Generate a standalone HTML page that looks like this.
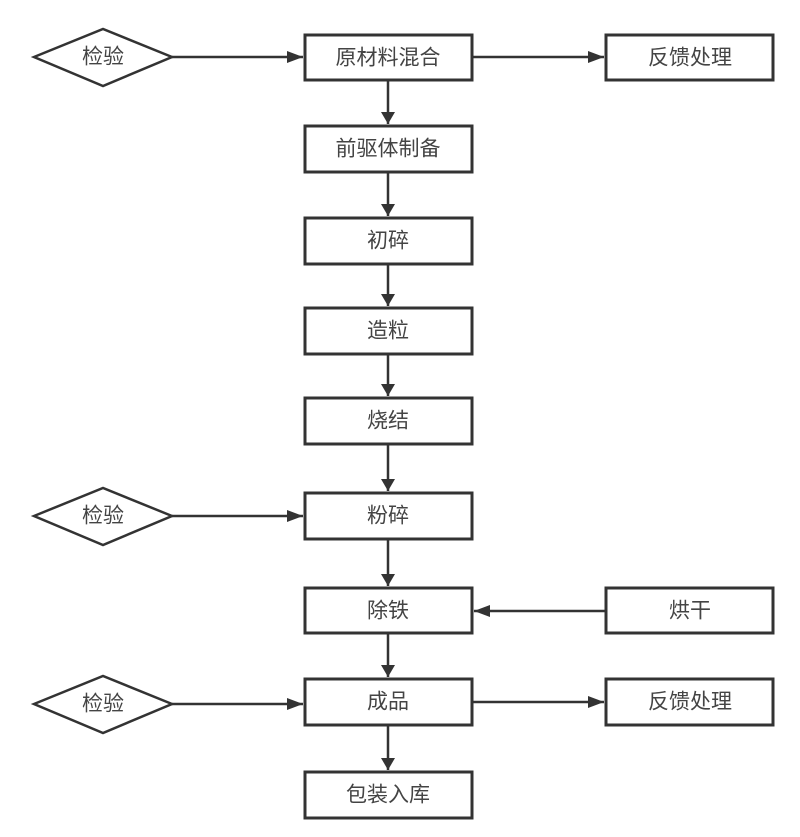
<!DOCTYPE html>
<html><head><meta charset="utf-8"><style>
html,body{margin:0;padding:0;background:#fff;}
svg text{font-family:"Liberation Sans","Noto Sans CJK SC",sans-serif;font-size:21px;fill:#444;text-anchor:middle;dominant-baseline:central;}
</style></head><body>
<svg width="800" height="832" viewBox="0 0 800 832" xmlns="http://www.w3.org/2000/svg">
<defs><marker id="a" viewBox="0 0 12 16" refX="12" refY="8" markerWidth="12" markerHeight="16" markerUnits="userSpaceOnUse" orient="auto"><path d="M0,1 L12,8 L0,15 Z" fill="#333"/></marker>
<marker id="b" viewBox="0 0 16 12" refX="16" refY="6" markerWidth="16" markerHeight="12" markerUnits="userSpaceOnUse" orient="auto"><path d="M0,0 L16,6 L0,12 Z" fill="#333"/></marker></defs>
<g fill="none" stroke="#333" stroke-width="3">
<rect x="305" y="35" width="167" height="45"/>
<rect x="305" y="126" width="167" height="46"/>
<rect x="305" y="218" width="167" height="46"/>
<rect x="305" y="308" width="167" height="46"/>
<rect x="305" y="398" width="167" height="46"/>
<rect x="305" y="493" width="167" height="46"/>
<rect x="305" y="588" width="167" height="45"/>
<rect x="305" y="679" width="167" height="46"/>
<rect x="305" y="772" width="167" height="46"/>
<rect x="606" y="35" width="167" height="45"/>
<rect x="606" y="588" width="167" height="45"/>
<rect x="606" y="679" width="167" height="46"/>
</g>
<g fill="none" stroke="#333" stroke-width="2.5">
<polygon points="34,57 103,29 172,57 103,86"/>
<polygon points="34,516 103,488 172,516 103,545"/>
<polygon points="34,704 103,676 172,704 103,733"/>
</g>
<g stroke="#333" stroke-width="2.5" fill="none">
<line x1="172" y1="57" x2="303" y2="57" marker-end="url(#b)"/>
<line x1="472" y1="57" x2="604" y2="57" marker-end="url(#b)"/>
<line x1="388" y1="80" x2="388" y2="124" marker-end="url(#a)"/>
<line x1="388" y1="172" x2="388" y2="216" marker-end="url(#a)"/>
<line x1="388" y1="264" x2="388" y2="306" marker-end="url(#a)"/>
<line x1="388" y1="354" x2="388" y2="396" marker-end="url(#a)"/>
<line x1="388" y1="444" x2="388" y2="491" marker-end="url(#a)"/>
<line x1="172" y1="516" x2="303" y2="516" marker-end="url(#b)"/>
<line x1="388" y1="539" x2="388" y2="586" marker-end="url(#a)"/>
<line x1="606" y1="611" x2="474" y2="611" marker-end="url(#b)"/>
<line x1="388" y1="633" x2="388" y2="677" marker-end="url(#a)"/>
<line x1="172" y1="704" x2="303" y2="704" marker-end="url(#b)"/>
<line x1="472" y1="702" x2="604" y2="702" marker-end="url(#b)"/>
<line x1="388" y1="725" x2="388" y2="770" marker-end="url(#a)"/>
</g>
<text x="388" y="58">原材料混合</text>
<text x="388" y="149">前驱体制备</text>
<text x="388" y="241">初碎</text>
<text x="388" y="331">造粒</text>
<text x="388" y="421">烧结</text>
<text x="388" y="516">粉碎</text>
<text x="388" y="611">除铁</text>
<text x="388" y="702">成品</text>
<text x="388" y="795">包装入库</text>
<text x="690" y="58">反馈处理</text>
<text x="690" y="611">烘干</text>
<text x="690" y="702">反馈处理</text>
<text x="103" y="57">检验</text>
<text x="103" y="516">检验</text>
<text x="103" y="704">检验</text>
</svg>
</body></html>
